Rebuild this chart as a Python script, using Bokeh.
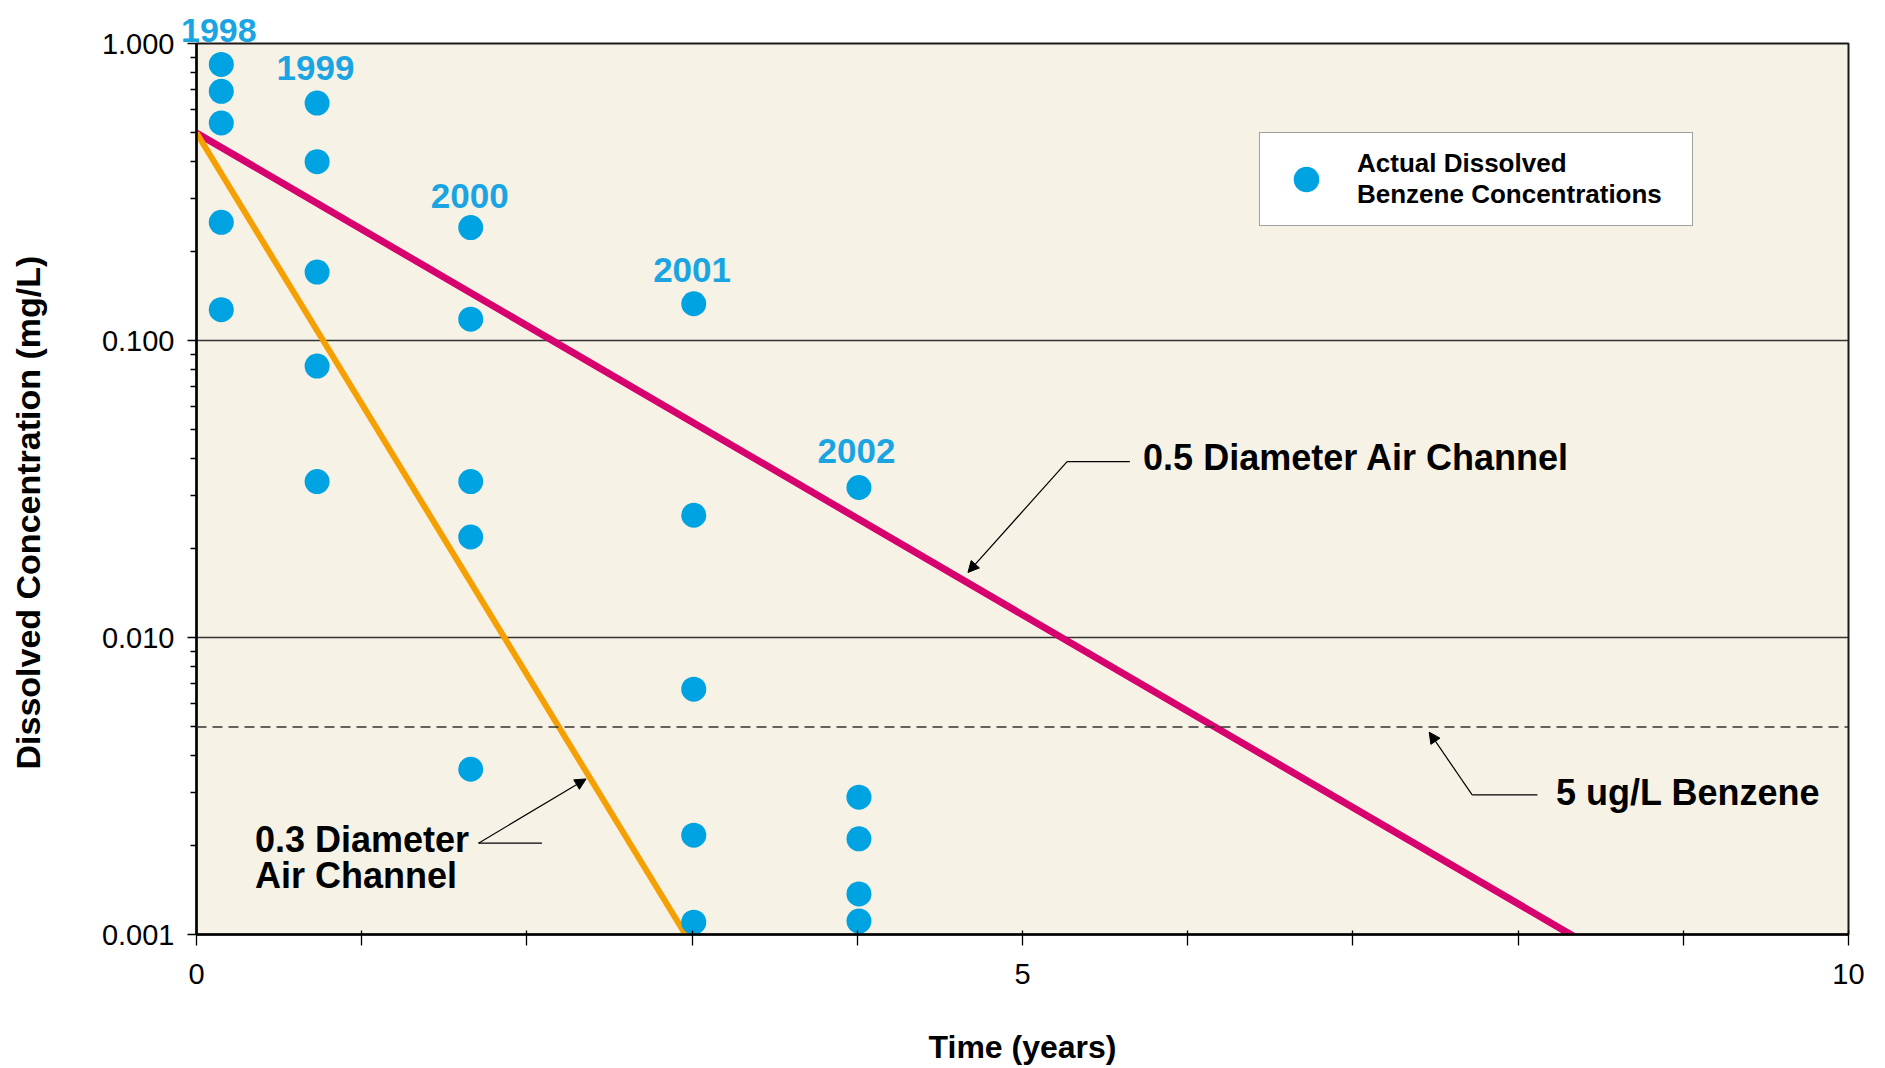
from bokeh.plotting import figure
from bokeh.models import (FixedTicker, PrintfTickFormatter, Span, Label, LabelSet,
                          ColumnDataSource, Arrow, NormalHead, LinearAxis)
from bokeh.core.properties import value
from bokeh.embed import file_html
from bokeh.resources import INLINE

# ---------------- data ----------------
obs_time = [0.15, 0.15, 0.15, 0.15, 0.15,
            0.73, 0.73, 0.73, 0.73, 0.73,
            1.66, 1.66, 1.66, 1.66, 1.66,
            3.01, 3.01, 3.01, 3.01, 3.01,
            4.01, 4.01, 4.01, 4.01, 4.01]
obs_conc = [0.85, 0.69, 0.54, 0.25, 0.127,
            0.63, 0.40, 0.17, 0.082, 0.0335,
            0.24, 0.118, 0.0335, 0.0218, 0.0036,
            0.133, 0.0258, 0.0067, 0.00216, 0.0011,
            0.032, 0.0029, 0.0021, 0.00137, 0.00111]

# first year label sits above the plot frame (drawn on a top axis)
first_year = "1998"
first_year_x = 0.135
year_text = ["1999", "2000", "2001", "2002"]
year_x = [0.72, 1.654, 3.0, 3.995]
year_y = [0.828, 0.306, 0.173, 0.0424]

channel05_time = [0.0, 8.43]
channel05_conc = [0.5, 0.00092]
channel03_time = [0.0, 2.96]
channel03_conc = [0.5, 0.001]

benzene_limit = 0.005

x_ticks = [0, 5, 10]
x_minor = [1, 2, 3, 4, 6, 7, 8, 9]
y_ticks = [0.001, 0.01, 0.1, 1.0]
y_minor = [m * d for d in (0.001, 0.01, 0.1) for m in range(2, 10)]

# ---------------- style ----------------
FONT = "Liberation Sans"
DOT = "#00A3E1"
YEAR = "#1AA5E2"
MAGENTA = "#D6006E"
ORANGE = "#F5A000"
CREAM = "#F6F3E6"

p = figure(width=1885, height=1068, x_range=(0, 10), y_range=(0.001, 1.0),
           y_axis_type="log", output_backend="svg", toolbar_location=None,
           min_border_left=196, min_border_right=37, min_border_top=43,
           min_border_bottom=134)
p.background_fill_color = CREAM
p.border_fill_color = "white"
p.outline_line_color = "#1a1a1a"
p.outline_line_width = 2

# axes
p.xaxis.ticker = FixedTicker(ticks=x_ticks, minor_ticks=x_minor)
p.yaxis.ticker = FixedTicker(ticks=y_ticks, minor_ticks=y_minor)
p.yaxis.formatter = PrintfTickFormatter(format="%.3f")
for ax in (p.xaxis, p.yaxis):
    ax.axis_line_color = "black"
    ax.axis_line_width = 2.5
    ax.major_tick_line_color = "black"
    ax.minor_tick_line_color = "black"
    ax.major_tick_line_width = 1.3
    ax.minor_tick_line_width = 1.3
    ax.major_label_text_font = FONT
    ax.major_label_text_font_size = "29px"
    ax.major_label_text_color = "black"
    ax.axis_label_text_font = FONT
    ax.axis_label_text_font_style = "bold"
    ax.axis_label_text_color = "black"
p.xaxis.major_tick_in = 4
p.xaxis.major_tick_out = 11
p.xaxis.minor_tick_in = 4
p.xaxis.minor_tick_out = 11
p.xaxis.major_label_standoff = 18
p.yaxis.major_tick_in = 0
p.yaxis.major_tick_out = 9
p.yaxis.minor_tick_in = 0
p.yaxis.minor_tick_out = 6
p.yaxis.major_label_standoff = 13

p.xaxis.axis_label = "Time (years)"
p.xaxis.axis_label_text_font_size = "32px"
p.xaxis.axis_label_standoff = 42

p.yaxis.axis_label = "Dissolved Concentration (mg/L)" + "\u00a0" * 5
p.yaxis.axis_label_text_font_size = "34px"
p.yaxis.axis_label_standoff = 52

# top axis used only to carry the "1998" label above the frame
top = LinearAxis(ticker=FixedTicker(ticks=[first_year_x], minor_ticks=[]),
                 major_label_overrides={first_year_x: first_year},
                 axis_line_color=None, major_tick_line_color=None,
                 minor_tick_line_color=None, major_tick_out=0, major_tick_in=0,
                 major_label_standoff=2, major_label_text_font=FONT,
                 major_label_text_font_style="bold",
                 major_label_text_font_size="34px", major_label_text_color=YEAR)
p.add_layout(top, "above")

# grid
p.xgrid.grid_line_color = None
p.ygrid.grid_line_color = "#333333"
p.ygrid.grid_line_width = 1.3

# 5 ug/L dashed line
p.add_layout(Span(location=benzene_limit, dimension="width", line_color="#333333",
                  line_width=1.5, line_dash="10 6"))

# model lines
p.line(channel05_time, channel05_conc, line_color=MAGENTA, line_width=7)
p.line(channel03_time, channel03_conc, line_color=ORANGE, line_width=6)

# observed points
p.scatter(obs_time, obs_conc, size=25, fill_color=DOT, line_color=None,
          legend_label="Actual Dissolved\nBenzene Concentrations")

# year labels
ysrc = ColumnDataSource(dict(x=year_x, y=year_y, t=year_text))
p.add_layout(LabelSet(x="x", y="y", text="t", source=ysrc, text_align="center",
                      text_baseline="middle", text_font=value(FONT),
                      text_font_style="bold", text_font_size="35px",
                      text_color=YEAR))

# legend
lg = p.legend[0]
lg.location = (1063, 708)
lg.padding = 14
lg.margin = 0
lg.spacing = 0
lg.glyph_width = 64
lg.glyph_height = 64
lg.label_standoff = 19
lg.label_width = 321
lg.border_line_color = "#444444"
lg.border_line_width = 1.5
lg.background_fill_color = "white"
lg.background_fill_alpha = 1.0
lg.label_text_font = FONT
lg.label_text_font_style = "bold"
lg.label_text_font_size = "26px"
lg.label_text_color = "black"
lg.label_text_line_height = 1.0

# annotation texts
def lab(txt, x, y, size="36px", align="left"):
    p.add_layout(Label(x=x, y=y, text=txt, text_font=FONT, text_font_style="bold",
                       text_font_size=size, text_color="black", text_align=align,
                       text_baseline="middle"))

lab("0.5 Diameter Air Channel", 5.73, 0.0404)
lab("0.3 Diameter", 0.354, 0.00209)
lab("Air Channel", 0.354, 0.00158)
lab("5 ug/L Benzene", 8.23, 0.003)

def leader(x0, x1, y, xt, yt):
    p.add_layout(Arrow(end=None, x_start=x1, y_start=y, x_end=x0, y_end=y,
                       line_color="black", line_width=1.2))
    p.add_layout(Arrow(end=NormalHead(size=11, fill_color="black", line_color="black"),
                       x_start=x0, y_start=y, x_end=xt, y_end=yt,
                       line_color="black", line_width=1.2))

leader(5.27, 5.65, 0.0391, 4.67, 0.01656)
leader(1.707, 2.091, 0.00203, 2.358, 0.00334)
leader(7.722, 8.117, 0.00295, 7.462, 0.0048)

open("out.html", "w").write(file_html(p, INLINE))
